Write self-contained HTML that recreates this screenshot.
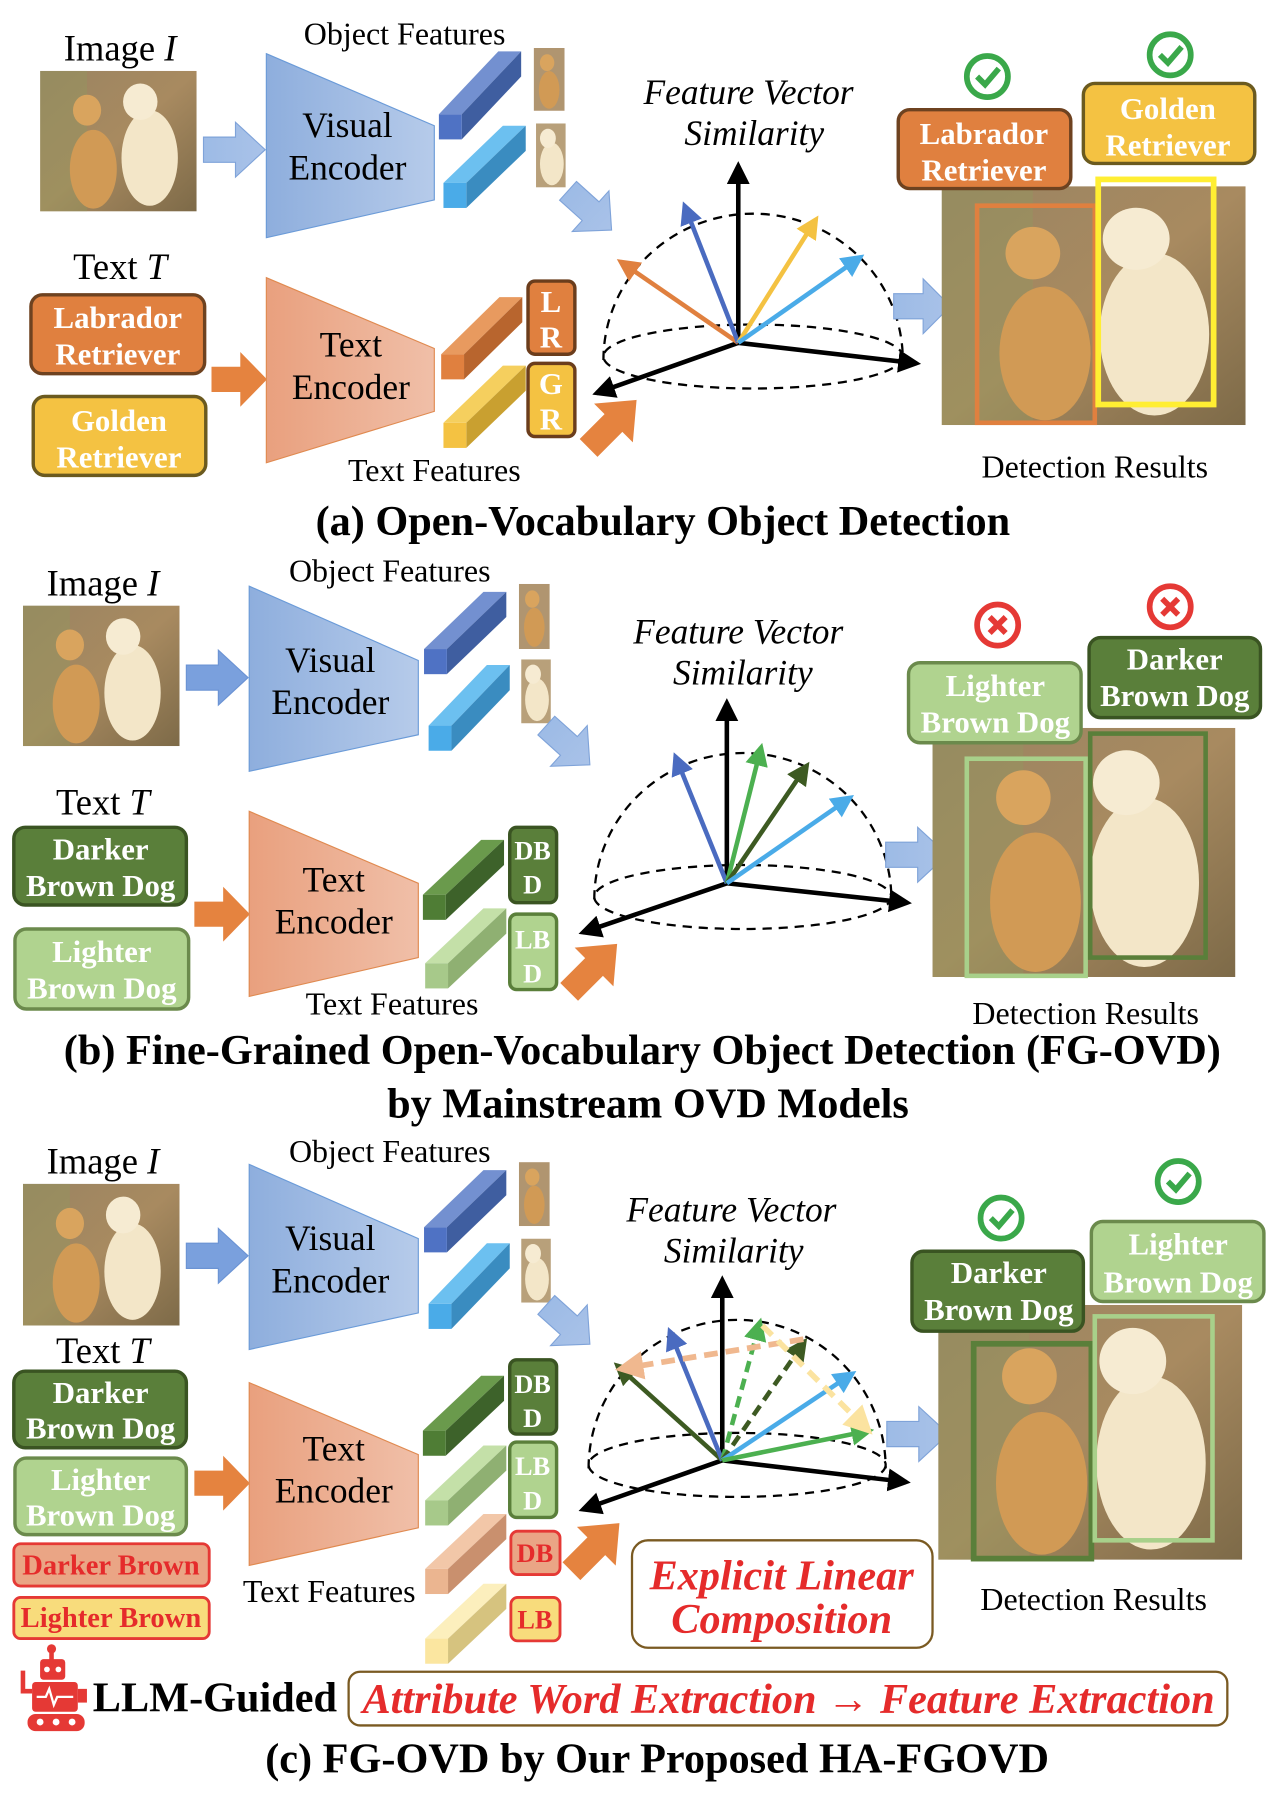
<!DOCTYPE html>
<html><head><meta charset="utf-8"><style>
html,body{margin:0;padding:0;background:#fff}
svg{display:block}
text{font-family:"Liberation Serif",serif}
.t{text-anchor:middle;fill:#000}
.lb{font-size:27px;font-weight:bold;fill:#fff;text-anchor:middle}
.ti{font-size:37px;font-weight:bold;text-anchor:middle}
.fv{font-size:31px;font-style:italic;text-anchor:middle}
.enc{font-size:31px;text-anchor:middle}
.rd{fill:#e52b2b;font-weight:bold;text-anchor:middle}
</style></head><body>
<svg width="1280" height="1794" viewBox="0 0 1120 1570" xmlns="http://www.w3.org/2000/svg">
<defs>
<linearGradient id="gb" x1="0" x2="1"><stop offset="0" stop-color="#8eaedd"/><stop offset="1" stop-color="#b6cbea"/></linearGradient>
<linearGradient id="go" x1="0" x2="1"><stop offset="0" stop-color="#e9a07e"/><stop offset="1" stop-color="#f0bfa8"/></linearGradient>
<linearGradient id="ga" x1="0" x2="1"><stop offset="0" stop-color="#9dbbe6"/><stop offset="1" stop-color="#a9c2e8"/></linearGradient>
<linearGradient id="gg" x1="0" x2="1" y1="0" y2="1"><stop offset="0" stop-color="#9a8462"/><stop offset="0.5" stop-color="#a88a60"/><stop offset="1" stop-color="#7d6a48"/></linearGradient>
<marker id="mk" viewBox="0 0 10 10" refX="8" refY="5" markerWidth="5" markerHeight="5" orient="auto"><path d="M0,0L10,5L0,10z" fill="context-stroke"/></marker>
<symbol id="dogs" viewBox="0 0 100 100" preserveAspectRatio="none">
<rect width="100" height="100" fill="url(#gg)"/>
<rect x="0" y="0" width="30" height="100" fill="#8f9a5e" opacity="0.35"/>
<ellipse cx="34" cy="70" rx="15" ry="28" fill="#d19a55"/>
<ellipse cx="30" cy="28" rx="9" ry="11" fill="#d9a45e"/>
<ellipse cx="70" cy="62" rx="18" ry="34" fill="#f3e6c8"/>
<ellipse cx="64" cy="22" rx="11" ry="13" fill="#f6ebd2"/>
</symbol>
<symbol id="dog1" viewBox="0 0 30 60" preserveAspectRatio="none">
<rect width="30" height="60" fill="#b09570"/><ellipse cx="15" cy="40" rx="10" ry="18" fill="#d19a55"/><ellipse cx="13" cy="14" rx="7" ry="8" fill="#d9a45e"/></symbol>
<symbol id="dog2" viewBox="0 0 30 60" preserveAspectRatio="none">
<rect width="30" height="60" fill="#b8a07a"/><ellipse cx="16" cy="38" rx="12" ry="20" fill="#f3e6c8"/><ellipse cx="12" cy="14" rx="8" ry="9" fill="#f6ebd2"/></symbol>
<symbol id="ck" viewBox="0 0 44 44"><circle cx="22" cy="22" r="18" fill="#fff" stroke="#3aa84a" stroke-width="5"/><path d="M13,22 L20,29 L32,15" fill="none" stroke="#3aa84a" stroke-width="5"/></symbol>
<symbol id="xx" viewBox="0 0 44 44"><circle cx="22" cy="22" r="18" fill="#fff" stroke="#e53935" stroke-width="5"/><path d="M15,15 L29,29 M29,15 L15,29" fill="none" stroke="#e53935" stroke-width="5"/></symbol>
<path id="arr" d="M0,-11 L28,-11 L28,-24 L54,0 L28,24 L28,11 L0,11 Z"/>
</defs>

<!-- ================= (a) ================= -->
<text class="t" x="105" y="53" font-size="32">Image <tspan font-style="italic">I</tspan></text>
<use href="#dogs" x="35" y="62" width="137" height="123"/>
<use href="#arr" transform="translate(178,131)" fill="url(#ga)" stroke="#7fa3d9"/>
<polygon points="233,47 380,110 380,175 233,208" fill="url(#gb)" stroke="#6b9bd8"/>
<text class="enc" x="304" y="120">Visual</text><text class="enc" x="304" y="157">Encoder</text>
<text class="t" x="354" y="39" font-size="28">Object Features</text>
<g transform="translate(384,100)"><polygon points="0,0 20,0 72,-55 52,-55" fill="#7390d0"/><polygon points="20,0 72,-55 72,-33 20,22" fill="#3f5ea0"/><rect width="20" height="22" fill="#4f72c4"/></g>
<g transform="translate(388,160)"><polygon points="0,0 20,0 72,-50 52,-50" fill="#6cc0f0"/><polygon points="20,0 72,-50 72,-28 20,22" fill="#3a8cc0"/><rect width="20" height="22" fill="#4aabe8"/></g>
<use href="#dog1" x="467" y="42" width="27" height="55"/>
<use href="#dog2" x="469" y="108" width="26" height="56"/>

<text class="t" x="105" y="244" font-size="32">Text <tspan font-style="italic">T</tspan></text>
<rect x="27" y="258" width="152" height="69" rx="10" fill="#e0803f" stroke="#6e4220" stroke-width="3"/>
<text class="lb" x="103" y="287">Labrador</text><text class="lb" x="103" y="319">Retriever</text>
<rect x="29" y="347" width="151" height="69" rx="10" fill="#f4c242" stroke="#6b5a1f" stroke-width="3"/>
<text class="lb" x="104" y="377">Golden</text><text class="lb" x="104" y="409">Retriever</text>
<use href="#arr" transform="translate(185,332) scale(0.9,1)" fill="#e5833f"/>
<polygon points="233,243 380,305 380,360 233,405" fill="url(#go)" stroke="#e08a50"/>
<text class="enc" x="307" y="312">Text</text><text class="enc" x="307" y="349">Encoder</text>
<g transform="translate(386,310)"><polygon points="0,0 20,0 71,-50 51,-50" fill="#e89a5f"/><polygon points="20,0 71,-50 71,-28 20,22" fill="#b8652e"/><rect width="20" height="22" fill="#e0803f"/></g>
<g transform="translate(388,370)"><polygon points="0,0 20,0 72,-50 52,-50" fill="#f5cf5e"/><polygon points="20,0 72,-50 72,-28 20,22" fill="#c9a030"/><rect width="20" height="22" fill="#f4c242"/></g>
<rect x="462" y="246" width="41" height="64" rx="6" fill="#e0803f" stroke="#6b3d1c" stroke-width="3"/>
<text class="lb" x="482" y="273">L</text><text class="lb" x="482" y="304">R</text>
<rect x="462" y="318" width="41" height="64" rx="6" fill="#f4c242" stroke="#6b3d1c" stroke-width="3"/>
<text class="lb" x="482" y="345">G</text><text class="lb" x="482" y="376">R</text>
<text class="t" x="380" y="421" font-size="28">Text Features</text>
<use href="#arr" transform="translate(515,392) rotate(-45) scale(1.1,1)" fill="#e5833f"/>
<use href="#arr" transform="translate(497,167) rotate(42) scale(0.95,1)" fill="url(#ga)" stroke="#7fa3d9"/>
<text class="fv" x="655" y="91">Feature Vector</text><text class="fv" x="660" y="127">Similarity</text>
<g fill="none" stroke="#000" stroke-width="2" stroke-dasharray="8,6">
<path d="M528,315 A131,128 0 0 1 790,315"/>
<ellipse cx="659" cy="312" rx="131" ry="28"/>
</g>
<g stroke-width="4" fill="none">
<line x1="646" y1="300" x2="646" y2="145" stroke="#000" marker-end="url(#mk)"/>
<line x1="646" y1="300" x2="802" y2="318" stroke="#000" marker-end="url(#mk)"/>
<line x1="646" y1="300" x2="522" y2="344" stroke="#000" marker-end="url(#mk)"/>
<line x1="646" y1="300" x2="543" y2="229" stroke="#e0803f" marker-end="url(#mk)"/>
<line x1="646" y1="300" x2="599" y2="180" stroke="#4a6bc0" marker-end="url(#mk)"/>
<line x1="646" y1="300" x2="714" y2="192" stroke="#f4c242" marker-end="url(#mk)"/>
<line x1="646" y1="300" x2="753" y2="225" stroke="#4aabe8" marker-end="url(#mk)"/>
</g>
<use href="#arr" transform="translate(782,268) scale(0.92,1)" fill="url(#ga)" stroke="#7fa3d9"/>
<use href="#dogs" x="824" y="163" width="266" height="209"/>
<rect x="855" y="180" width="103" height="190" fill="none" stroke="#e0803f" stroke-width="4"/>
<rect x="961" y="157" width="101" height="197" fill="none" stroke="#ffee33" stroke-width="5"/>
<use href="#ck" x="842" y="45" width="44" height="44"/>
<use href="#ck" x="1002" y="26" width="44" height="44"/>
<rect x="786" y="96" width="151" height="69" rx="10" fill="#e0803f" stroke="#6e4220" stroke-width="3"/>
<text class="lb" x="861" y="126">Labrador</text><text class="lb" x="861" y="158">Retriever</text>
<rect x="948" y="73" width="150" height="70" rx="10" fill="#f4c242" stroke="#6b5a1f" stroke-width="3"/>
<text class="lb" x="1022" y="104">Golden</text><text class="lb" x="1022" y="136">Retriever</text>
<text class="t" x="958" y="418" font-size="28">Detection Results</text>
<text class="ti" x="580" y="468">(a) Open-Vocabulary Object Detection</text>

<!-- ================= (b) ================= -->
<text class="t" x="90" y="521" font-size="32">Image <tspan font-style="italic">I</tspan></text>
<use href="#dogs" x="20" y="530" width="137" height="123"/>
<use href="#arr" transform="translate(163,593)" fill="#7aa0dd" stroke="#6b93d4"/>
<polygon points="218,513 366,578 366,643 218,675" fill="url(#gb)" stroke="#6b9bd8"/>
<text class="enc" x="289" y="588">Visual</text><text class="enc" x="289" y="625">Encoder</text>
<text class="t" x="341" y="509" font-size="28">Object Features</text>
<g transform="translate(371,568)"><polygon points="0,0 20,0 72,-50 52,-50" fill="#7390d0"/><polygon points="20,0 72,-50 72,-28 20,22" fill="#3f5ea0"/><rect width="20" height="22" fill="#4f72c4"/></g>
<g transform="translate(375,635)"><polygon points="0,0 20,0 71,-53 51,-53" fill="#6cc0f0"/><polygon points="20,0 71,-53 71,-31 20,22" fill="#3a8cc0"/><rect width="20" height="22" fill="#4aabe8"/></g>
<use href="#dog1" x="454" y="511" width="27" height="57"/>
<use href="#dog2" x="456" y="577" width="26" height="56"/>
<text class="t" x="90" y="713" font-size="32">Text <tspan font-style="italic">T</tspan></text>
<rect x="12" y="724" width="151" height="68" rx="10" fill="#5a7f3a" stroke="#3a5422" stroke-width="3"/>
<text class="lb" x="88" y="752">Darker</text><text class="lb" x="88" y="784">Brown Dog</text>
<rect x="13" y="813" width="152" height="70" rx="10" fill="#b0d38f" stroke="#6b8a4c" stroke-width="3"/>
<text class="lb" x="89" y="842">Lighter</text><text class="lb" x="89" y="874">Brown Dog</text>
<use href="#arr" transform="translate(170,800) scale(0.9,1)" fill="#e5833f"/>
<polygon points="218,710 366,773 366,838 218,872" fill="url(#go)" stroke="#e08a50"/>
<text class="enc" x="292" y="780">Text</text><text class="enc" x="292" y="817">Encoder</text>
<g transform="translate(370,783)"><polygon points="0,0 20,0 71,-48 51,-48" fill="#6a9a4c"/><polygon points="20,0 71,-48 71,-26 20,22" fill="#3d622a"/><rect width="20" height="22" fill="#4f7d35"/></g>
<g transform="translate(372,843)"><polygon points="0,0 20,0 71,-48 51,-48" fill="#c4e0a8"/><polygon points="20,0 71,-48 71,-26 20,22" fill="#8fb072"/><rect width="20" height="22" fill="#a7c98a"/></g>
<rect x="446" y="724" width="41" height="66" rx="6" fill="#5a7f3a" stroke="#3a5422" stroke-width="3"/>
<text class="lb" x="466" y="752" style="font-size:23px">DB</text><text class="lb" x="466" y="782" style="font-size:23px">D</text>
<rect x="446" y="800" width="41" height="66" rx="6" fill="#b0d38f" stroke="#5a7f3a" stroke-width="3"/>
<text class="lb" x="466" y="830" style="font-size:23px">LB</text><text class="lb" x="466" y="860" style="font-size:23px">D</text>
<text class="t" x="343" y="888" font-size="28">Text Features</text>
<use href="#arr" transform="translate(498,868) rotate(-45) scale(1.1,1)" fill="#e5833f"/>
<use href="#arr" transform="translate(478,635) rotate(42) scale(0.95,1)" fill="url(#ga)" stroke="#7fa3d9"/>
<text class="fv" x="646" y="563">Feature Vector</text><text class="fv" x="650" y="599">Similarity</text>
<g fill="none" stroke="#000" stroke-width="2" stroke-dasharray="8,6">
<path d="M520,787 A130,128 0 0 1 780,787"/>
<ellipse cx="650" cy="785" rx="130" ry="28"/>
</g>
<g stroke-width="4" fill="none">
<line x1="636" y1="773" x2="636" y2="615" stroke="#000" marker-end="url(#mk)"/>
<line x1="636" y1="773" x2="794" y2="790" stroke="#000" marker-end="url(#mk)"/>
<line x1="636" y1="773" x2="510" y2="816" stroke="#000" marker-end="url(#mk)"/>
<line x1="636" y1="773" x2="591" y2="662" stroke="#4a6bc0" marker-end="url(#mk)"/>
<line x1="636" y1="773" x2="666" y2="654" stroke="#4cb050" marker-end="url(#mk)"/>
<line x1="636" y1="773" x2="706" y2="670" stroke="#3d5a22" marker-end="url(#mk)"/>
<line x1="636" y1="773" x2="744" y2="698" stroke="#4aabe8" marker-end="url(#mk)"/>
</g>
<use href="#arr" transform="translate(775,748)" fill="url(#ga)" stroke="#7fa3d9"/>
<use href="#dogs" x="816" y="637" width="265" height="218"/>
<rect x="846" y="664" width="104" height="190" fill="none" stroke="#a8d08a" stroke-width="4"/>
<rect x="954" y="642" width="101" height="196" fill="none" stroke="#5a7f3a" stroke-width="4"/>
<use href="#xx" x="851" y="525" width="44" height="44"/>
<use href="#xx" x="1002" y="509" width="44" height="44"/>
<rect x="795" y="580" width="151" height="70" rx="10" fill="#b0d38f" stroke="#6b8a4c" stroke-width="3"/>
<text class="lb" x="871" y="609">Lighter</text><text class="lb" x="871" y="641">Brown Dog</text>
<rect x="953" y="558" width="150" height="70" rx="10" fill="#5a7f3a" stroke="#3a5422" stroke-width="3"/>
<text class="lb" x="1028" y="586">Darker</text><text class="lb" x="1028" y="618">Brown Dog</text>
<text class="t" x="950" y="896" font-size="28">Detection Results</text>
<text class="ti" x="562" y="931">(b) Fine-Grained Open-Vocabulary Object Detection (FG-OVD)</text>
<text class="ti" x="567" y="978">by Mainstream OVD Models</text>

<!-- ================= (c) ================= -->
<text class="t" x="90" y="1027" font-size="32">Image <tspan font-style="italic">I</tspan></text>
<use href="#dogs" x="20" y="1036" width="137" height="124"/>
<use href="#arr" transform="translate(163,1099)" fill="#7aa0dd" stroke="#6b93d4"/>
<polygon points="218,1019 366,1084 366,1149 218,1181" fill="url(#gb)" stroke="#6b9bd8"/>
<text class="enc" x="289" y="1094">Visual</text><text class="enc" x="289" y="1131">Encoder</text>
<text class="t" x="341" y="1017" font-size="28">Object Features</text>
<g transform="translate(371,1074)"><polygon points="0,0 20,0 72,-50 52,-50" fill="#7390d0"/><polygon points="20,0 72,-50 72,-28 20,22" fill="#3f5ea0"/><rect width="20" height="22" fill="#4f72c4"/></g>
<g transform="translate(375,1141)"><polygon points="0,0 20,0 71,-53 51,-53" fill="#6cc0f0"/><polygon points="20,0 71,-53 71,-31 20,22" fill="#3a8cc0"/><rect width="20" height="22" fill="#4aabe8"/></g>
<use href="#dog1" x="454" y="1017" width="27" height="56"/>
<use href="#dog2" x="456" y="1084" width="26" height="56"/>
<text class="t" x="90" y="1193" font-size="32">Text <tspan font-style="italic">T</tspan></text>
<rect x="12" y="1200" width="151" height="67" rx="10" fill="#5a7f3a" stroke="#3a5422" stroke-width="3"/>
<text class="lb" x="88" y="1228">Darker</text><text class="lb" x="88" y="1259">Brown Dog</text>
<rect x="13" y="1276" width="150" height="67" rx="10" fill="#b0d38f" stroke="#6b8a4c" stroke-width="3"/>
<text class="lb" x="88" y="1304">Lighter</text><text class="lb" x="88" y="1335">Brown Dog</text>
<rect x="12" y="1351" width="171" height="37" rx="6" fill="#eaa585" stroke="#e53935" stroke-width="2.5"/>
<text class="rd" x="97" y="1378" font-size="25">Darker Brown</text>
<rect x="12" y="1398" width="171" height="36" rx="6" fill="#f8dc7c" stroke="#e53935" stroke-width="2.5"/>
<text class="rd" x="97" y="1424" font-size="25">Lighter Brown</text>
<use href="#arr" transform="translate(170,1298) scale(0.9,1)" fill="#e5833f"/>
<polygon points="218,1210 366,1273 366,1337 218,1370" fill="url(#go)" stroke="#e08a50"/>
<text class="enc" x="292" y="1278">Text</text><text class="enc" x="292" y="1315">Encoder</text>
<g transform="translate(370,1252)"><polygon points="0,0 20,0 71,-48 51,-48" fill="#6a9a4c"/><polygon points="20,0 71,-48 71,-26 20,22" fill="#3d622a"/><rect width="20" height="22" fill="#4f7d35"/></g>
<g transform="translate(372,1313)"><polygon points="0,0 20,0 71,-48 51,-48" fill="#c4e0a8"/><polygon points="20,0 71,-48 71,-26 20,22" fill="#8fb072"/><rect width="20" height="22" fill="#a7c98a"/></g>
<g transform="translate(372,1373)"><polygon points="0,0 20,0 71,-48 51,-48" fill="#f2c7a8"/><polygon points="20,0 71,-48 71,-26 20,22" fill="#c9906e"/><rect width="20" height="22" fill="#ebb590"/></g>
<g transform="translate(372,1434)"><polygon points="0,0 20,0 71,-48 51,-48" fill="#fcefbd"/><polygon points="20,0 71,-48 71,-26 20,22" fill="#d6c37f"/><rect width="20" height="22" fill="#fbe6a0"/></g>
<rect x="446" y="1190" width="41" height="65" rx="6" fill="#5a7f3a" stroke="#3a5422" stroke-width="3"/>
<text class="lb" x="466" y="1219" style="font-size:23px">DB</text><text class="lb" x="466" y="1249" style="font-size:23px">D</text>
<rect x="446" y="1262" width="41" height="66" rx="6" fill="#b0d38f" stroke="#5a7f3a" stroke-width="3"/>
<text class="lb" x="466" y="1291" style="font-size:23px">LB</text><text class="lb" x="466" y="1321" style="font-size:23px">D</text>
<rect x="447" y="1340" width="43" height="38" rx="6" fill="#eaa585" stroke="#e53935" stroke-width="2.5"/>
<text class="rd" x="468" y="1367" font-size="23">DB</text>
<rect x="447" y="1398" width="43" height="38" rx="6" fill="#f8dc7c" stroke="#e53935" stroke-width="2.5"/>
<text class="rd" x="468" y="1425" font-size="23">LB</text>
<text class="t" x="288" y="1402" font-size="28">Text Features</text>
<use href="#arr" transform="translate(500,1375) rotate(-45) scale(1.1,1)" fill="#e5833f"/>
<use href="#arr" transform="translate(478,1142) rotate(42) scale(0.95,1)" fill="url(#ga)" stroke="#7fa3d9"/>
<rect x="553" y="1348" width="263" height="94" rx="14" fill="#fff" stroke="#7a5a22" stroke-width="2"/>
<text class="rd" x="684" y="1391" font-size="37" font-style="italic">Explicit Linear</text>
<text class="rd" x="684" y="1429" font-size="37" font-style="italic">Composition</text>
<text class="fv" x="640" y="1069">Feature Vector</text><text class="fv" x="642" y="1105">Similarity</text>
<g fill="none" stroke="#000" stroke-width="2" stroke-dasharray="8,6">
<path d="M515,1285 A130,130 0 0 1 775,1285"/>
<ellipse cx="645" cy="1282" rx="130" ry="28"/>
</g>
<g stroke-width="4" fill="none">
<line x1="632" y1="1278" x2="632" y2="1120" stroke="#000" marker-end="url(#mk)"/>
<line x1="632" y1="1278" x2="793" y2="1297" stroke="#000" marker-end="url(#mk)"/>
<line x1="632" y1="1278" x2="510" y2="1321" stroke="#000" marker-end="url(#mk)"/>
<line x1="632" y1="1278" x2="540" y2="1195" stroke="#3d5a22" marker-end="url(#mk)"/>
<line x1="632" y1="1278" x2="586" y2="1165" stroke="#4a6bc0" marker-end="url(#mk)"/>
<line x1="632" y1="1278" x2="665" y2="1157" stroke="#4cb050" stroke-dasharray="10,6" marker-end="url(#mk)"/>
<line x1="632" y1="1278" x2="704" y2="1174" stroke="#3d5a22" stroke-dasharray="10,6" marker-end="url(#mk)"/>
<line x1="632" y1="1278" x2="746" y2="1202" stroke="#4aabe8" marker-end="url(#mk)"/>
<line x1="632" y1="1278" x2="761" y2="1252" stroke="#4cb050" marker-end="url(#mk)"/>
<line x1="703" y1="1172" x2="543" y2="1198" stroke="#f0b88f" stroke-width="5" stroke-dasharray="12,7" marker-end="url(#mk)"/>
<line x1="667" y1="1160" x2="760" y2="1252" stroke="#fbe3a0" stroke-width="5" stroke-dasharray="12,7" marker-end="url(#mk)"/>
</g>
<use href="#arr" transform="translate(776,1255)" fill="url(#ga)" stroke="#7fa3d9"/>
<use href="#dogs" x="821" y="1142" width="266" height="223"/>
<rect x="852" y="1176" width="103" height="188" fill="none" stroke="#5a7f3a" stroke-width="5"/>
<rect x="958" y="1152" width="103" height="196" fill="none" stroke="#a8d08a" stroke-width="4"/>
<use href="#ck" x="854" y="1044" width="44" height="44"/>
<use href="#ck" x="1009" y="1012" width="44" height="44"/>
<rect x="798" y="1095" width="150" height="70" rx="10" fill="#5a7f3a" stroke="#3a5422" stroke-width="3"/>
<text class="lb" x="874" y="1123">Darker</text><text class="lb" x="874" y="1155">Brown Dog</text>
<rect x="955" y="1069" width="151" height="70" rx="10" fill="#b0d38f" stroke="#6b8a4c" stroke-width="3"/>
<text class="lb" x="1031" y="1098">Lighter</text><text class="lb" x="1031" y="1131">Brown Dog</text>
<text class="t" x="957" y="1409" font-size="28">Detection Results</text>

<!-- robot -->
<g fill="#e53935">
<circle cx="45" cy="1443" r="4"/><rect x="43" y="1445" width="4" height="8"/>
<rect x="35" y="1452" width="22" height="18" rx="3"/>
<rect x="28" y="1472" width="40" height="26" rx="3"/>
<path d="M18,1462 L22,1462 L22,1478 L28,1478 L28,1482 L18,1482 Z"/>
<rect x="68" y="1478" width="8" height="12"/>
<rect x="24" y="1500" width="50" height="15" rx="7"/>
</g>
<g fill="#fff"><circle cx="41" cy="1461" r="2.5"/><circle cx="51" cy="1461" r="2.5"/><circle cx="35" cy="1507" r="3"/><circle cx="49" cy="1507" r="3"/><circle cx="63" cy="1507" r="3"/></g>
<path d="M32,1485 L40,1485 L43,1478 L47,1492 L50,1485 L64,1485" fill="none" stroke="#fff" stroke-width="2"/>
<text x="188" y="1498" font-size="37" font-weight="bold" text-anchor="middle">LLM-Guided</text>
<rect x="305" y="1463" width="769" height="47" rx="10" fill="#fff" stroke="#7a5a22" stroke-width="2"/>
<text class="rd" x="690" y="1499" font-size="37" font-style="italic">Attribute Word Extraction → Feature Extraction</text>
<text class="ti" x="575" y="1551">(c) FG-OVD by Our Proposed HA-FGOVD</text>
</svg>
</body></html>
